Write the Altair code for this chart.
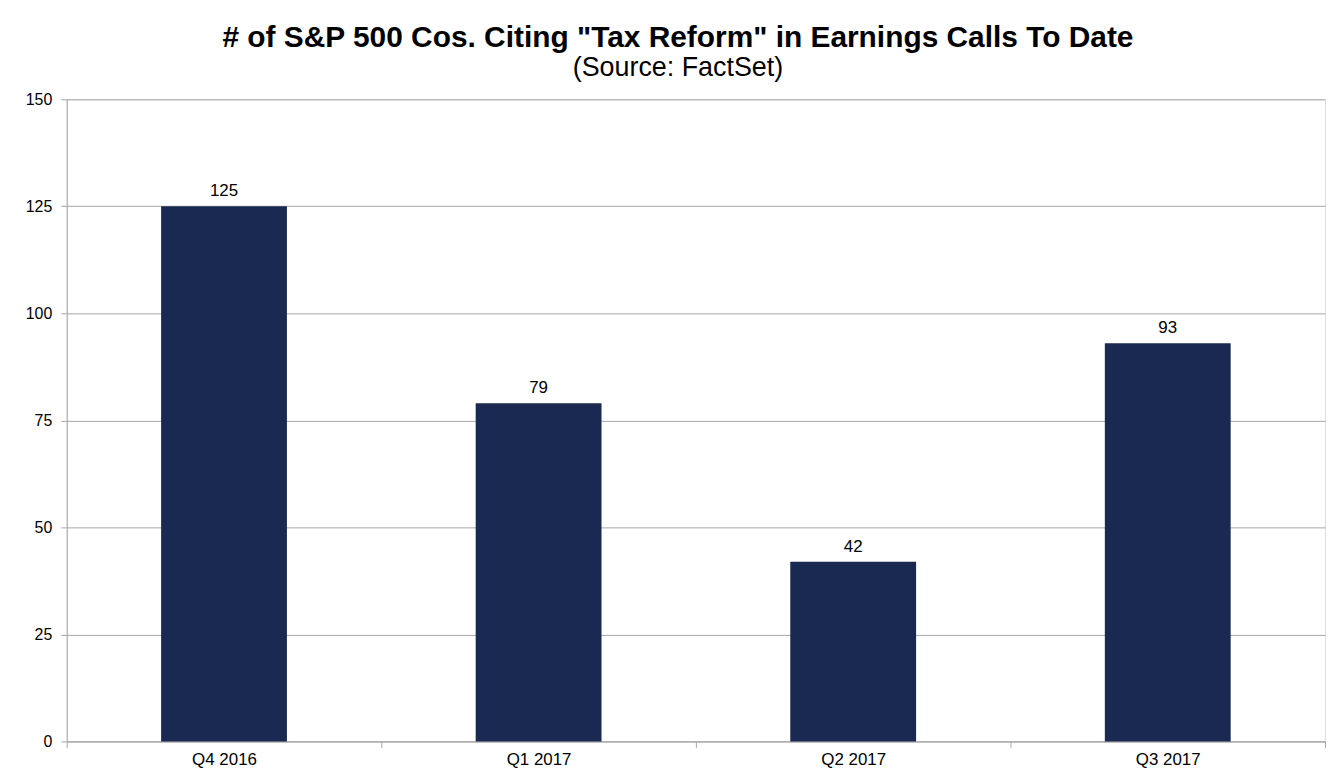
import altair as alt
import pandas as pd

quarters = ["Q4 2016", "Q1 2017", "Q2 2017", "Q3 2017"]
counts = [125, 79, 42, 93]

df = pd.DataFrame({"quarter": quarters, "count": counts})

FONT = "Liberation Sans"
GRAY = "#a6a6a6"

base = alt.Chart(df).encode(
    x=alt.X("quarter:N", sort=quarters, title=None,
            scale=alt.Scale(paddingInner=0, paddingOuter=0),
            axis=alt.Axis(labelAngle=0, labelFontSize=17, labelColor="black", labelFont=FONT,
                          domainColor=GRAY, tickColor=GRAY, tickSize=6, tickBand="extent",
                          labelPadding=4, grid=False)),
    y=alt.Y("count:Q", title=None,
            scale=alt.Scale(domain=[0, 150], nice=False),
            axis=alt.Axis(values=[0, 25, 50, 75, 100, 125, 150], labelFontSize=16,
                          labelColor="black", labelFont=FONT, domainColor=GRAY,
                          tickColor=GRAY, tickSize=6, gridColor=GRAY, gridOpacity=1,
                          labelPadding=9)),
)

bars = base.mark_bar(color="#1a2952", width=alt.RelativeBandSize(0.4))
labels = base.mark_text(baseline="bottom", dy=-6, fontSize=17, font=FONT, color="black").encode(
    text="count:Q")

chart = (bars + labels).properties(
    width=1264, height=645,
    autosize=alt.AutoSizeParams(type="none"),
    padding={"left": 59, "top": 90, "right": 10, "bottom": 30},
    title=alt.TitleParams(
        text='# of S&P 500 Cos. Citing "Tax Reform" in Earnings Calls To Date',
        subtitle="(Source: FactSet)",
        font=FONT, fontSize=30, fontWeight="bold", color="black",
        subtitleFont=FONT, subtitleFontSize=27, subtitleColor="black",
        subtitlePadding=3, anchor="middle", dx=-18, offset=10,
    ),
).configure_view(stroke=None).configure(background="white")

chart.save("out.html", embed_options={"renderer": "svg", "actions": False})
